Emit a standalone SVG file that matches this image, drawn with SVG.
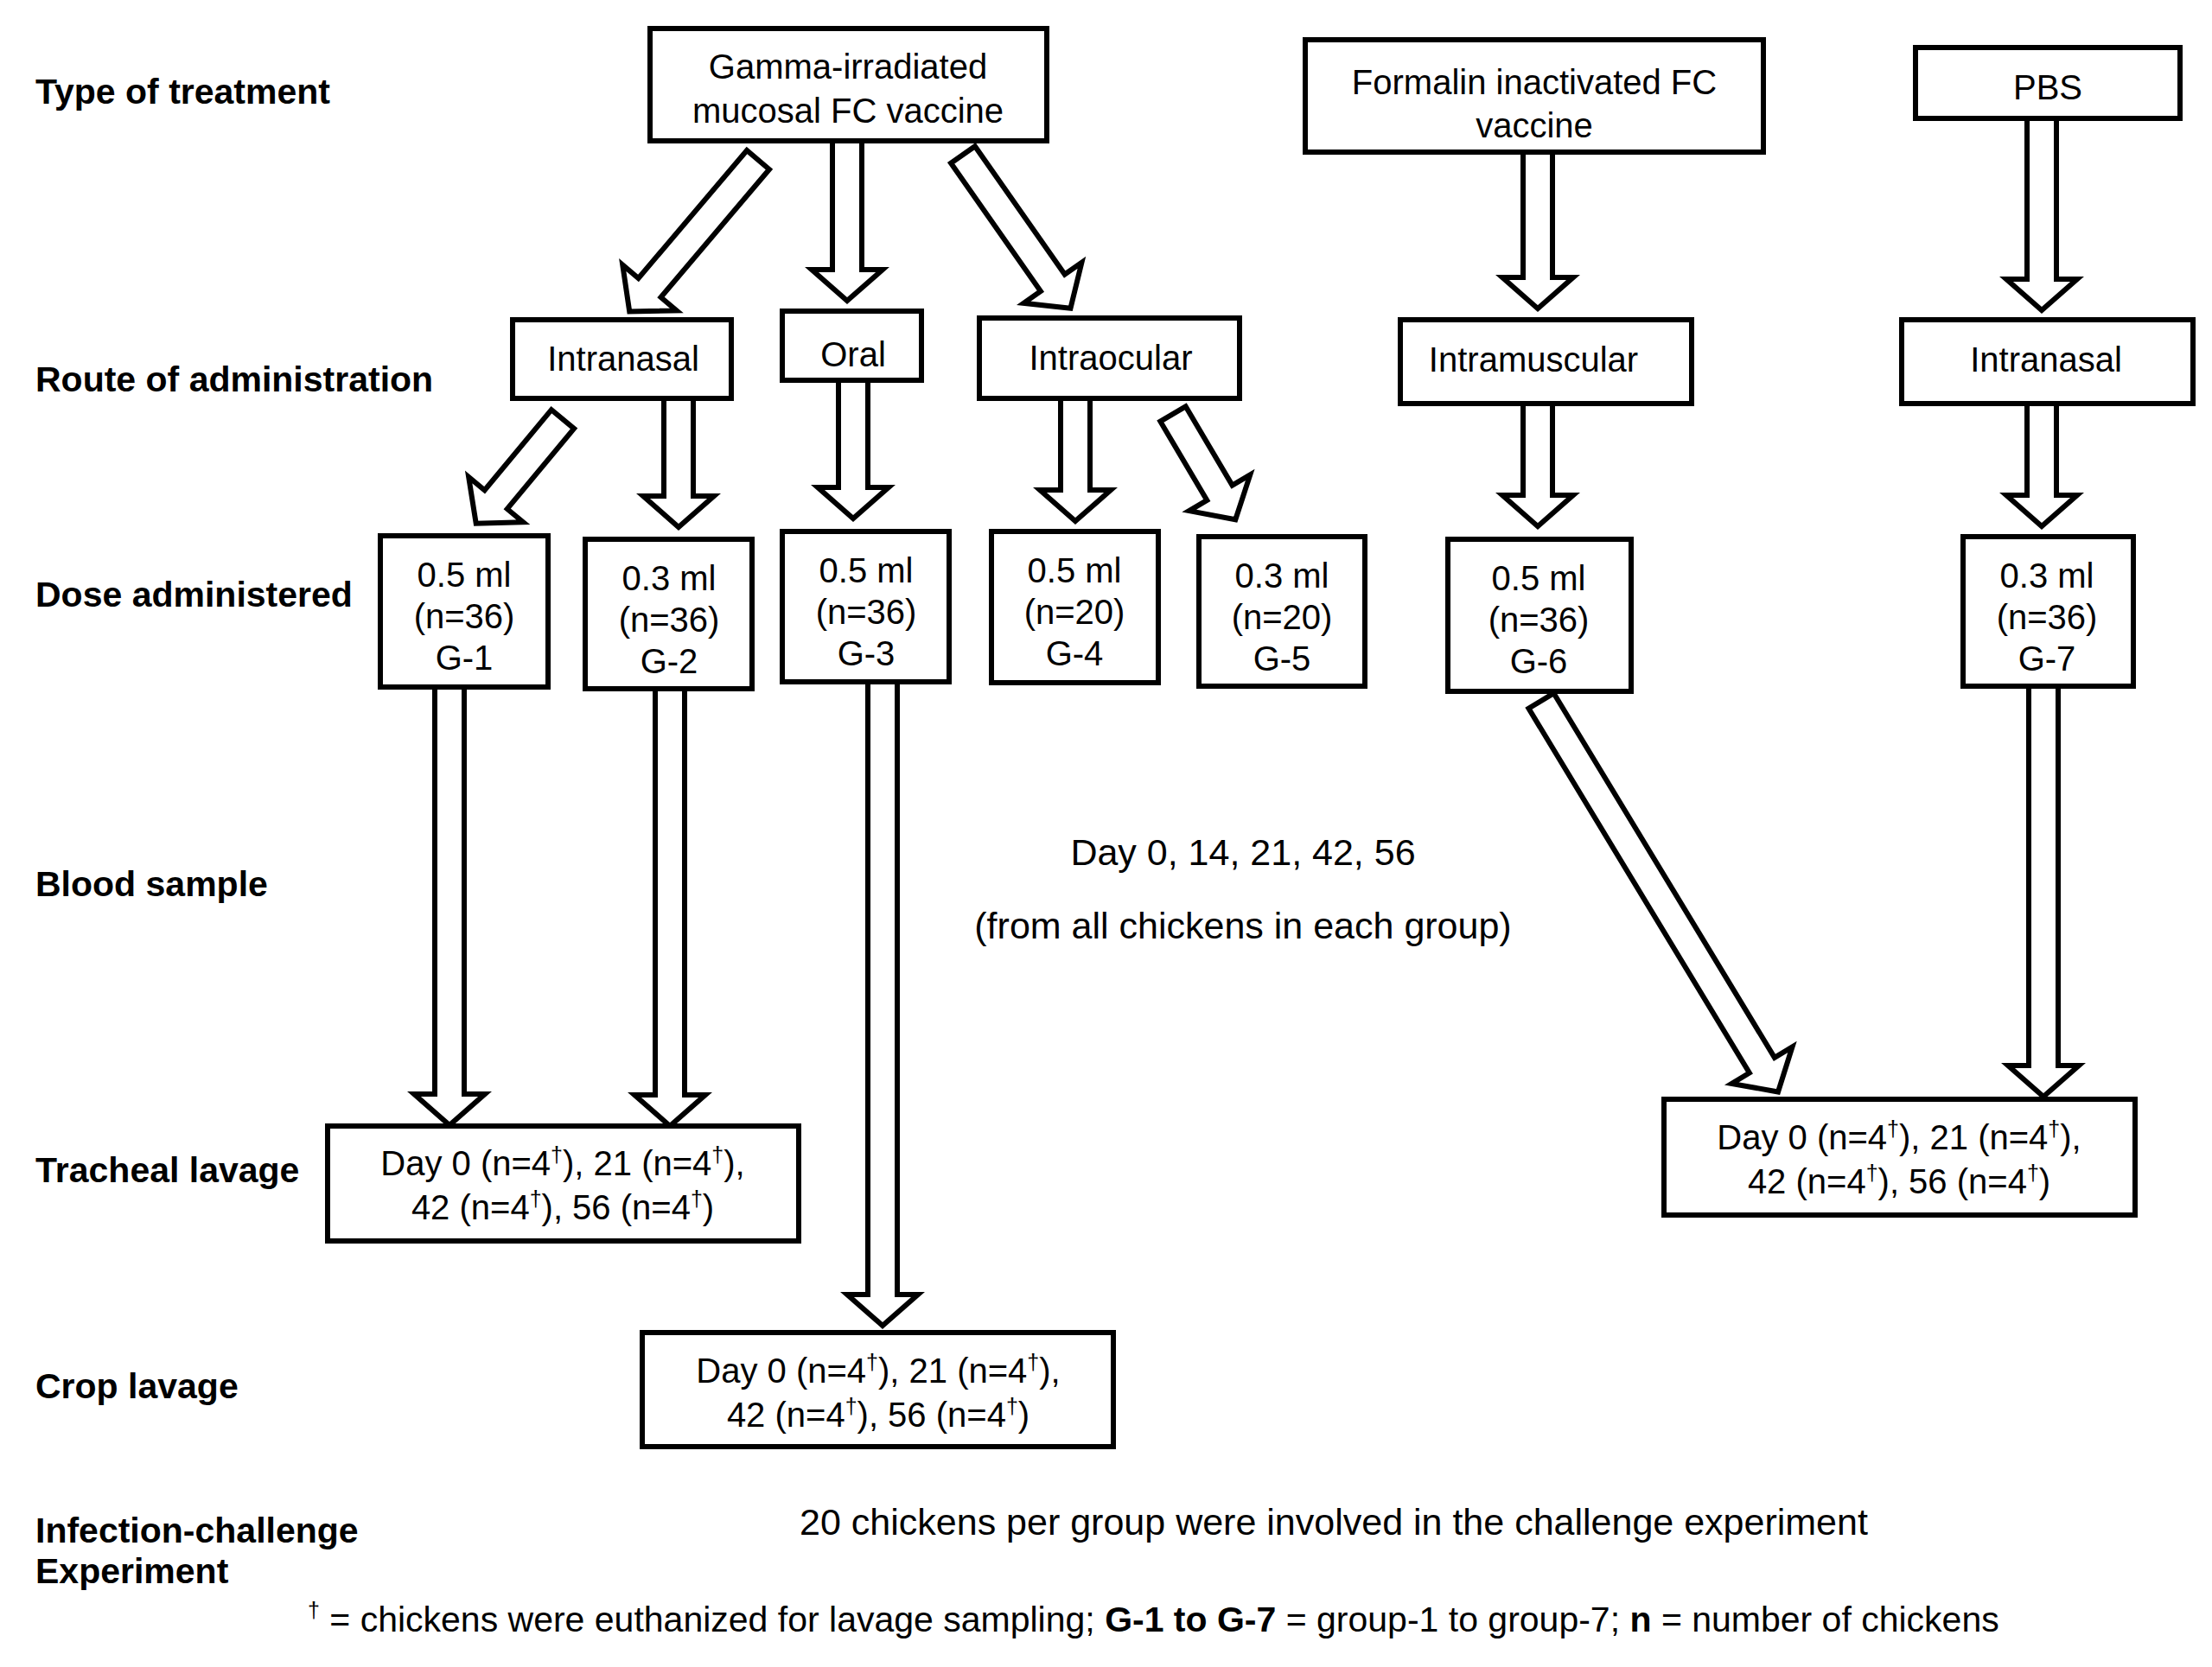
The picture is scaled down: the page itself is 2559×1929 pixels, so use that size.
<svg xmlns="http://www.w3.org/2000/svg" width="2559" height="1929" viewBox="0 0 2559 1929">
<style>
text{font-family:"Liberation Sans",Arial,Helvetica,sans-serif;fill:#000}
.lbl{font-size:41px;font-weight:bold}
.t{font-size:40px;text-anchor:middle}
.c{font-size:43px;text-anchor:middle}
.f{font-size:41px}
.sup{font-size:25px}
.box{fill:#fff;stroke:#000;stroke-width:6}
.arr{fill:#fff;stroke:#000;stroke-width:6;stroke-linejoin:miter;stroke-miterlimit:10}
</style>
<rect width="2559" height="1929" fill="#fff"/>
<g id="row-labels">
<text class="lbl" x="41" y="120">Type of treatment</text>
<text class="lbl" x="41" y="453">Route of administration</text>
<text class="lbl" x="41" y="702">Dose administered</text>
<text class="lbl" x="41" y="1037">Blood sample</text>
<text class="lbl" x="41" y="1368">Tracheal lavage</text>
<text class="lbl" x="41" y="1618">Crop lavage</text>
<text class="lbl" x="41" y="1785">Infection-challenge</text>
<text class="lbl" x="41" y="1832">Experiment</text>
</g>
<g id="connectors">
<polygon class="arr" transform="translate(980 163) rotate(90)" points="0,-17 149,-17 149,-41 185,0 149,41 149,17 0,17"/>
<polygon class="arr" transform="translate(1779 176) rotate(90)" points="0,-17 145,-17 145,-41 181,0 145,41 145,17 0,17"/>
<polygon class="arr" transform="translate(2362 137) rotate(90)" points="0,-17 186,-17 186,-41 222,0 186,41 186,17 0,17"/>
<polygon class="arr" transform="translate(785 461) rotate(90)" points="0,-17 113,-17 113,-41 149,0 113,41 113,17 0,17"/>
<polygon class="arr" transform="translate(987 440) rotate(90)" points="0,-17 124,-17 124,-41 160,0 124,41 124,17 0,17"/>
<polygon class="arr" transform="translate(1244 461) rotate(90)" points="0,-17 106,-17 106,-41 142,0 106,41 106,17 0,17"/>
<polygon class="arr" transform="translate(1779 467) rotate(90)" points="0,-17 106,-17 106,-41 142,0 106,41 106,17 0,17"/>
<polygon class="arr" transform="translate(2362 467) rotate(90)" points="0,-17 106,-17 106,-41 142,0 106,41 106,17 0,17"/>
<polygon class="arr" transform="translate(520 795) rotate(90)" points="0,-17 471,-17 471,-41 507,0 471,41 471,17 0,17"/>
<polygon class="arr" transform="translate(775 797) rotate(90)" points="0,-17 470,-17 470,-41 506,0 470,41 470,17 0,17"/>
<polygon class="arr" transform="translate(1021 789) rotate(90)" points="0,-17 709,-17 709,-41 745,0 709,41 709,17 0,17"/>
<polygon class="arr" transform="translate(2364 794) rotate(90)" points="0,-17 439,-17 439,-41 475,0 439,41 439,17 0,17"/>
<polygon class="arr" transform="translate(877 185) rotate(130.3)" points="0,-17 194,-17 194,-41 230,0 194,41 194,17 0,17"/>
<polygon class="arr" transform="translate(1114 179) rotate(55)" points="0,-17 181,-17 181,-41 217,0 181,41 181,17 0,17"/>
<polygon class="arr" transform="translate(651 485) rotate(129.7)" points="0,-17 121,-17 121,-41 157,0 121,41 121,17 0,17"/>
<polygon class="arr" transform="translate(1357 479) rotate(59.4)" points="0,-17 106,-17 106,-41 142,0 106,41 106,17 0,17"/>
<polygon class="arr" transform="translate(1783 811) rotate(58.8)" points="0,-17 493,-17 493,-41 529,0 493,41 493,17 0,17"/>
</g>
<g id="gamma">
<rect class="box" x="752" y="33" width="459" height="130"/>
<text class="t" x="981" y="91">Gamma-irradiated</text>
<text class="t" x="981" y="142">mucosal FC vaccine</text>
</g>
<g id="formalin">
<rect class="box" x="1510" y="46" width="530" height="130"/>
<text class="t" x="1775" y="109">Formalin inactivated FC</text>
<text class="t" x="1775" y="159">vaccine</text>
</g>
<g id="pbs">
<rect class="box" x="2216" y="55" width="306" height="82"/>
<text class="t" x="2369" y="115">PBS</text>
</g>
<g id="intranasal-1">
<rect class="box" x="593" y="370" width="253" height="91"/>
<text class="t" x="721" y="429">Intranasal</text>
</g>
<g id="oral">
<rect class="box" x="905" y="360" width="161" height="80"/>
<text class="t" x="987" y="424">Oral</text>
</g>
<g id="intraocular">
<rect class="box" x="1133" y="368" width="301" height="93"/>
<text class="t" x="1285" y="428">Intraocular</text>
</g>
<g id="intramuscular">
<rect class="box" x="1620" y="370" width="337" height="97"/>
<text class="t" x="1774" y="430">Intramuscular</text>
</g>
<g id="intranasal-2">
<rect class="box" x="2200" y="370" width="337" height="97"/>
<text class="t" x="2367" y="430">Intranasal</text>
</g>
<g id="g1">
<rect class="box" x="440" y="620" width="194" height="175"/>
<text class="t" x="537" y="679">0.5 ml</text>
<text class="t" x="537" y="727">(n=36)</text>
<text class="t" x="537" y="775">G-1</text>
</g>
<g id="g2">
<rect class="box" x="677" y="624" width="193" height="173"/>
<text class="t" x="774" y="683">0.3 ml</text>
<text class="t" x="774" y="731">(n=36)</text>
<text class="t" x="774" y="779">G-2</text>
</g>
<g id="g3">
<rect class="box" x="905" y="615" width="193" height="174"/>
<text class="t" x="1002" y="674">0.5 ml</text>
<text class="t" x="1002" y="722">(n=36)</text>
<text class="t" x="1002" y="770">G-3</text>
</g>
<g id="g4">
<rect class="box" x="1147" y="615" width="193" height="175"/>
<text class="t" x="1243" y="674">0.5 ml</text>
<text class="t" x="1243" y="722">(n=20)</text>
<text class="t" x="1243" y="770">G-4</text>
</g>
<g id="g5">
<rect class="box" x="1387" y="621" width="192" height="173"/>
<text class="t" x="1483" y="680">0.3 ml</text>
<text class="t" x="1483" y="728">(n=20)</text>
<text class="t" x="1483" y="776">G-5</text>
</g>
<g id="g6">
<rect class="box" x="1675" y="624" width="212" height="176"/>
<text class="t" x="1780" y="683">0.5 ml</text>
<text class="t" x="1780" y="731">(n=36)</text>
<text class="t" x="1780" y="779">G-6</text>
</g>
<g id="g7">
<rect class="box" x="2271" y="621" width="197" height="173"/>
<text class="t" x="2368" y="680">0.3 ml</text>
<text class="t" x="2368" y="728">(n=36)</text>
<text class="t" x="2368" y="776">G-7</text>
</g>
<g id="tracheal-lavage">
<rect class="box" x="379" y="1303" width="545" height="133"/>
<text class="t" x="651" y="1360">Day 0 (n=4<tspan class="sup" dy="-15">†</tspan><tspan dy="15">), 21 (n=4</tspan><tspan class="sup" dy="-15">†</tspan><tspan dy="15">),</tspan></text>
<text class="t" x="651" y="1411">42 (n=4<tspan class="sup" dy="-15">†</tspan><tspan dy="15">), 56 (n=4</tspan><tspan class="sup" dy="-15">†</tspan><tspan dy="15">)</tspan></text>
</g>
<g id="crop-lavage">
<rect class="box" x="743" y="1542" width="545" height="132"/>
<text class="t" x="1016" y="1600">Day 0 (n=4<tspan class="sup" dy="-15">†</tspan><tspan dy="15">), 21 (n=4</tspan><tspan class="sup" dy="-15">†</tspan><tspan dy="15">),</tspan></text>
<text class="t" x="1016" y="1651">42 (n=4<tspan class="sup" dy="-15">†</tspan><tspan dy="15">), 56 (n=4</tspan><tspan class="sup" dy="-15">†</tspan><tspan dy="15">)</tspan></text>
</g>
<g id="lavage-right">
<rect class="box" x="1925" y="1272" width="545" height="134"/>
<text class="t" x="2197" y="1330">Day 0 (n=4<tspan class="sup" dy="-15">†</tspan><tspan dy="15">), 21 (n=4</tspan><tspan class="sup" dy="-15">†</tspan><tspan dy="15">),</tspan></text>
<text class="t" x="2197" y="1381">42 (n=4<tspan class="sup" dy="-15">†</tspan><tspan dy="15">), 56 (n=4</tspan><tspan class="sup" dy="-15">†</tspan><tspan dy="15">)</tspan></text>
</g>
<g id="blood-sample-note">
<text class="c" x="1438" y="1001">Day 0, 14, 21, 42, 56</text>
<text class="c" x="1438" y="1086">(from all chickens in each group)</text>
</g>
<g id="challenge-note">
<text class="c" x="1543" y="1776">20 chickens per group were involved in the challenge experiment</text>
</g>
<g id="footnote">
<text class="f" x="356" y="1888"><tspan class="sup" dy="-16">†</tspan><tspan dy="16"> = chickens were euthanized for lavage sampling; </tspan><tspan font-weight="bold">G-1 to G-7</tspan> = group-1 to group-7; <tspan font-weight="bold">n</tspan> = number of chickens</text>
</g>
</svg>
